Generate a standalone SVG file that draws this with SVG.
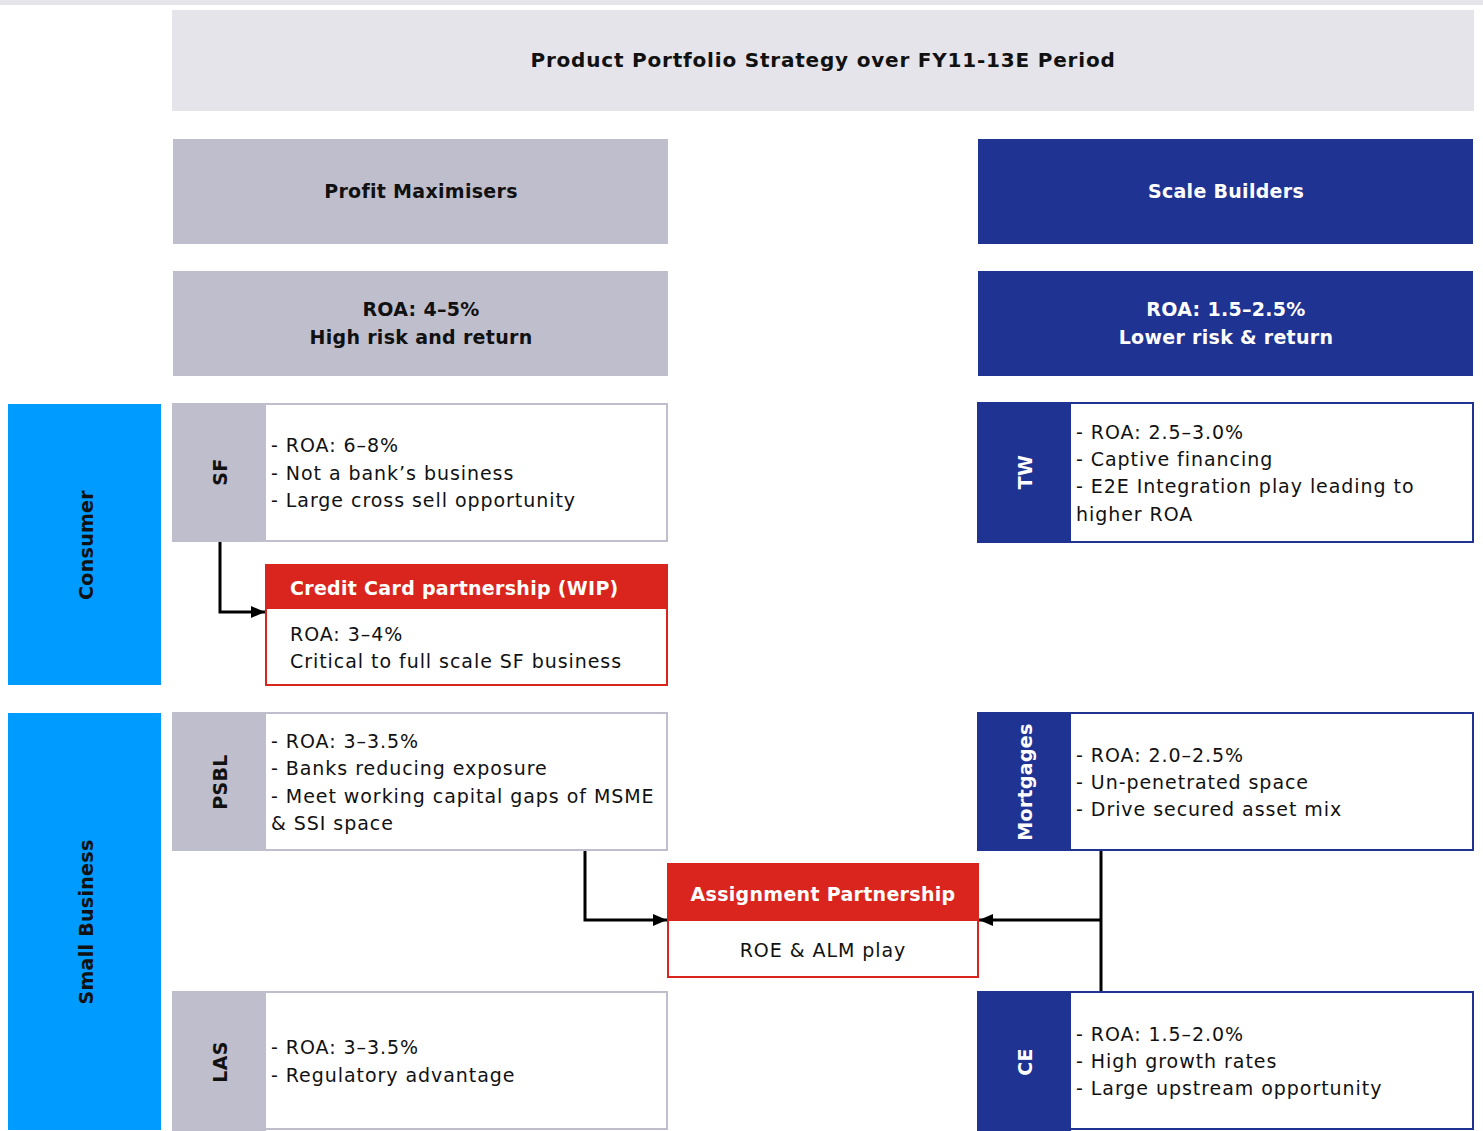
<svg xmlns="http://www.w3.org/2000/svg" width="1483" height="1131" viewBox="0 0 1483 1131">
<style>
.t{font-family:"DejaVu Sans","Liberation Sans",sans-serif;font-size:19px;letter-spacing:0.95px;fill:#111}
.b{font-family:"DejaVu Sans","Liberation Sans",sans-serif;font-size:19px;font-weight:bold;letter-spacing:0.3px;fill:#111}
.h{font-size:20px;letter-spacing:0.8px}
.w{fill:#fff}
.grey{fill:#bfbecd}
.blue{fill:#1f3393}
.cyan{fill:#009bff}
.red{fill:#d9251d}
.conn{fill:none;stroke:#000;stroke-width:3}
</style>
<defs>
<marker id="ah2" markerWidth="14" markerHeight="12" refX="14" refY="6" orient="auto" markerUnits="userSpaceOnUse">
<path d="M0,0 L14,6 L0,12 Z" fill="#000"/>
</marker>
</defs>
<rect width="1483" height="1131" fill="#fff"/>
<rect x="0" y="0" width="1483" height="5" fill="#e4e4ea"/>

<g id="header">
<rect x="172" y="10" width="1302" height="101" fill="#e4e4ea"/>
<text class="b h" x="823" y="67" text-anchor="middle">Product Portfolio Strategy over FY11-13E Period</text>
</g>

<g id="profit-max">
<rect class="grey" x="173" y="139" width="495" height="105"/>
<text class="b" x="421" y="198" text-anchor="middle">Profit Maximisers</text>
</g>
<g id="scale-builders">
<rect class="blue" x="978" y="139" width="495" height="105"/>
<text class="b w" x="1226" y="198" text-anchor="middle">Scale Builders</text>
</g>
<g id="profit-roa">
<rect class="grey" x="173" y="271" width="495" height="105"/>
<text class="b" x="421" y="316" text-anchor="middle">ROA: 4–5%</text>
<text class="b" x="421" y="344" text-anchor="middle">High risk and return</text>
</g>
<g id="scale-roa">
<rect class="blue" x="978" y="271" width="495" height="105"/>
<text class="b w" x="1226" y="316" text-anchor="middle">ROA: 1.5–2.5%</text>
<text class="b w" x="1226" y="344" text-anchor="middle">Lower risk &amp; return</text>
</g>

<g id="consumer">
<rect class="cyan" x="8" y="404" width="153" height="281"/>
<text class="b" transform="translate(93,545) rotate(-90)" text-anchor="middle">Consumer</text>
</g>
<g id="small-business">
<rect class="cyan" x="8" y="713" width="153" height="417"/>
<text class="b" transform="translate(93,922) rotate(-90)" text-anchor="middle">Small Business</text>
</g>

<g id="sf">
<rect x="173" y="404" width="494" height="137" fill="#fff" stroke="#bfbecd" stroke-width="2"/>
<rect class="grey" x="172" y="403" width="94" height="139"/>
<text class="b" transform="translate(227,472) rotate(-90)" text-anchor="middle">SF</text>
<text class="t" x="271" y="452">- ROA: 6–8%</text>
<text class="t" x="271" y="480">- Not a bank’s business</text>
<text class="t" x="271" y="507">- Large cross sell opportunity</text>
</g>

<g id="credit-card">
<rect x="266" y="565" width="401" height="120" fill="#fff" stroke="#d9251d" stroke-width="2"/>
<rect class="red" x="265" y="564" width="403" height="45"/>
<text class="b w" x="290" y="595">Credit Card partnership (WIP)</text>
<text class="t" x="290" y="641">ROA: 3–4%</text>
<text class="t" x="290" y="668">Critical to full scale SF business</text>
</g>

<g id="tw">
<rect x="978" y="403" width="495" height="139" fill="#fff" stroke="#1f3393" stroke-width="2"/>
<rect class="blue" x="977" y="402" width="94" height="141"/>
<text class="b w" transform="translate(1032,472) rotate(-90)" text-anchor="middle">TW</text>
<text class="t" x="1076" y="439">- ROA: 2.5–3.0%</text>
<text class="t" x="1076" y="466">- Captive financing</text>
<text class="t" x="1076" y="493">- E2E Integration play leading to</text>
<text class="t" x="1076" y="521">higher ROA</text>
</g>

<g id="psbl">
<rect x="173" y="713" width="494" height="137" fill="#fff" stroke="#bfbecd" stroke-width="2"/>
<rect class="grey" x="172" y="712" width="94" height="139"/>
<text class="b" transform="translate(227,782) rotate(-90)" text-anchor="middle">PSBL</text>
<text class="t" x="271" y="748">- ROA: 3–3.5%</text>
<text class="t" x="271" y="775">- Banks reducing exposure</text>
<text class="t" x="271" y="803">- Meet working capital gaps of MSME</text>
<text class="t" x="271" y="830">&amp; SSI space</text>
</g>

<g id="mortgages">
<rect x="978" y="713" width="495" height="137" fill="#fff" stroke="#1f3393" stroke-width="2"/>
<rect class="blue" x="977" y="712" width="94" height="139"/>
<text class="b w" transform="translate(1032,782) rotate(-90)" text-anchor="middle">Mortgages</text>
<text class="t" x="1076" y="762">- ROA: 2.0–2.5%</text>
<text class="t" x="1076" y="789">- Un-penetrated space</text>
<text class="t" x="1076" y="816">- Drive secured asset mix</text>
</g>

<g id="assignment">
<rect x="668" y="864" width="310" height="113" fill="#fff" stroke="#d9251d" stroke-width="2"/>
<rect class="red" x="667" y="863" width="312" height="58"/>
<text class="b w" x="823" y="901" text-anchor="middle">Assignment Partnership</text>
<text class="t" x="823" y="957" text-anchor="middle">ROE &amp; ALM play</text>
</g>

<g id="las">
<rect x="173" y="992" width="494" height="137" fill="#fff" stroke="#bfbecd" stroke-width="2"/>
<rect class="grey" x="172" y="991" width="94" height="140"/>
<text class="b" transform="translate(227,1062) rotate(-90)" text-anchor="middle">LAS</text>
<text class="t" x="271" y="1054">- ROA: 3–3.5%</text>
<text class="t" x="271" y="1082">- Regulatory advantage</text>
</g>

<g id="ce">
<rect x="978" y="992" width="495" height="137" fill="#fff" stroke="#1f3393" stroke-width="2"/>
<rect class="blue" x="977" y="991" width="94" height="140"/>
<text class="b w" transform="translate(1032,1062) rotate(-90)" text-anchor="middle">CE</text>
<text class="t" x="1076" y="1041">- ROA: 1.5–2.0%</text>
<text class="t" x="1076" y="1068">- High growth rates</text>
<text class="t" x="1076" y="1095">- Large upstream opportunity</text>
</g>

<g id="connectors">
<path class="conn" d="M220,542 V612 H265" marker-end="url(#ah2)"/>
<path class="conn" d="M585,851 V920 H667" marker-end="url(#ah2)"/>
<path class="conn" d="M1101,851 V991"/>
<path class="conn" d="M1101,920 H979" marker-end="url(#ah2)"/>
</g>
</svg>
